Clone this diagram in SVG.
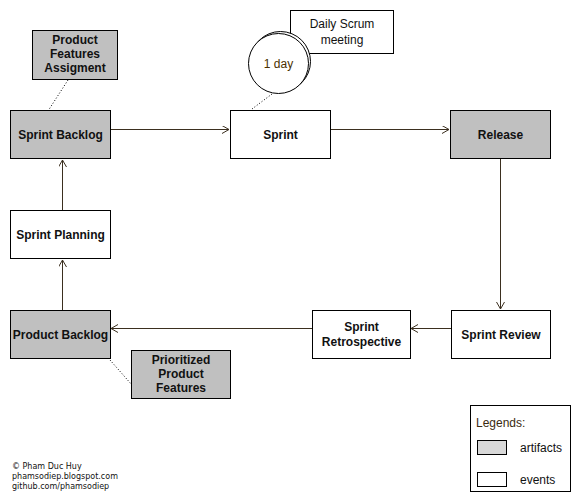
<svg xmlns="http://www.w3.org/2000/svg" width="581" height="502" viewBox="0 0 581 502">
<style>
.node{stroke:#000;stroke-width:1}
.art{fill:#c0c0c0}
.evt{fill:#fff}
.lbl{font-family:"Liberation Sans",Arial,sans-serif;font-size:12px;font-weight:bold;fill:#111;text-anchor:middle}
.txt{font-family:"Liberation Sans",Arial,sans-serif;font-size:12px;fill:#111}
.conn{stroke:#3b2f1f;stroke-width:1;fill:none}
.dot{stroke:#000;stroke-width:1;stroke-dasharray:1,2;fill:none}
.small{font-family:"DejaVu Sans",Verdana,sans-serif;font-size:8px;fill:#111}
</style>
<defs>
<marker id="open" markerWidth="10" markerHeight="10" refX="8" refY="4" orient="auto" markerUnits="userSpaceOnUse">
<path d="M1,0 L8,4 L1,8" fill="none" stroke="#3b2f1f" stroke-width="1"/>
</marker>
</defs>
<rect width="581" height="502" fill="#fff"/>
<g id="connectors">
<line class="conn" x1="110" y1="129.5" x2="229" y2="129.5" marker-end="url(#open)"/>
<line class="conn" x1="330" y1="129.5" x2="449" y2="129.5" marker-end="url(#open)"/>
<line class="conn" x1="500.5" y1="159" x2="500.5" y2="309" marker-end="url(#open)"/>
<line class="conn" x1="451" y1="328.5" x2="411" y2="328.5" marker-end="url(#open)"/>
<line class="conn" x1="312" y1="328.5" x2="111" y2="328.5" marker-end="url(#open)"/>
<line class="conn" x1="62.5" y1="310" x2="62.5" y2="260" marker-end="url(#open)"/>
<line class="conn" x1="62.5" y1="210" x2="62.5" y2="160" marker-end="url(#open)"/>
<line class="dot" x1="68" y1="80" x2="48" y2="111"/>
<line class="dot" x1="110" y1="360" x2="132" y2="385"/>
<line class="dot" x1="272" y1="94" x2="252" y2="109"/>
</g>
<g id="sprint-backlog">
<rect class="node art" x="10.5" y="110.5" width="100" height="48"/>
<text class="lbl" x="60.5" y="139">Sprint Backlog</text>
</g>
<g id="product-features-assigment">
<rect class="node art" x="32.5" y="30.5" width="85" height="49"/>
<text class="lbl" x="75" y="44">Product</text>
<text class="lbl" x="75" y="58">Features</text>
<text class="lbl" x="75" y="72">Assigment</text>
</g>
<g id="sprint">
<rect class="node evt" x="230.5" y="110.5" width="100" height="48"/>
<text class="lbl" x="280.5" y="139">Sprint</text>
</g>
<g id="release">
<rect class="node art" x="450.5" y="110.5" width="100" height="48"/>
<text class="lbl" x="500.5" y="139">Release</text>
</g>
<g id="sprint-planning">
<rect class="node evt" x="10.5" y="210.5" width="100" height="48"/>
<text class="lbl" x="60.5" y="239">Sprint Planning</text>
</g>
<g id="product-backlog">
<rect class="node art" x="10.5" y="310.5" width="100" height="48"/>
<text class="lbl" x="60.5" y="339">Product Backlog</text>
</g>
<g id="prioritized-product-features">
<rect class="node art" x="131.5" y="350.5" width="99" height="48"/>
<text class="lbl" x="181" y="364">Prioritized</text>
<text class="lbl" x="181" y="378">Product</text>
<text class="lbl" x="181" y="392">Features</text>
</g>
<g id="sprint-retrospective">
<rect class="node evt" x="312.5" y="310.5" width="98" height="48"/>
<text class="lbl" x="361.5" y="331">Sprint</text>
<text class="lbl" x="361.5" y="346">Retrospective</text>
</g>
<g id="sprint-review">
<rect class="node evt" x="451.5" y="310.5" width="99" height="48"/>
<text class="lbl" x="501" y="339">Sprint Review</text>
</g>
<g id="daily-scrum-meeting">
<rect class="node evt" x="290.5" y="10.5" width="103" height="43"/>
<text class="txt" x="342" y="28" text-anchor="middle">Daily Scrum</text>
<text class="txt" x="342" y="44" text-anchor="middle">meeting</text>
</g>
<g id="one-day">
<circle cx="280.5" cy="61.5" r="30" fill="#fff" stroke="#000"/>
<circle cx="278.5" cy="63.5" r="30" fill="#fff" stroke="#000"/>
<text class="txt" x="278.5" y="68" text-anchor="middle" style="fill:#4a3000">1 day</text>
</g>
<g id="legend">
<rect x="470.5" y="405.5" width="100" height="86" fill="#fff" stroke="#000"/>
<text class="txt" x="476" y="427" style="fill:#3a2a10">Legends:</text>
<rect x="477.5" y="440.5" width="29" height="14" fill="#d8d8d8" stroke="#000"/>
<text class="txt" x="520" y="452">artifacts</text>
<rect x="477.5" y="472.5" width="29" height="14" fill="#fff" stroke="#000"/>
<text class="txt" x="520" y="484">events</text>
</g>
<g id="credits">
<text class="small" x="12" y="469">© Pham Duc Huy</text>
<text class="small" x="12" y="479">phamsodiep.blogspot.com</text>
<text class="small" x="12" y="489">github.com/phamsodiep</text>
</g>
</svg>
